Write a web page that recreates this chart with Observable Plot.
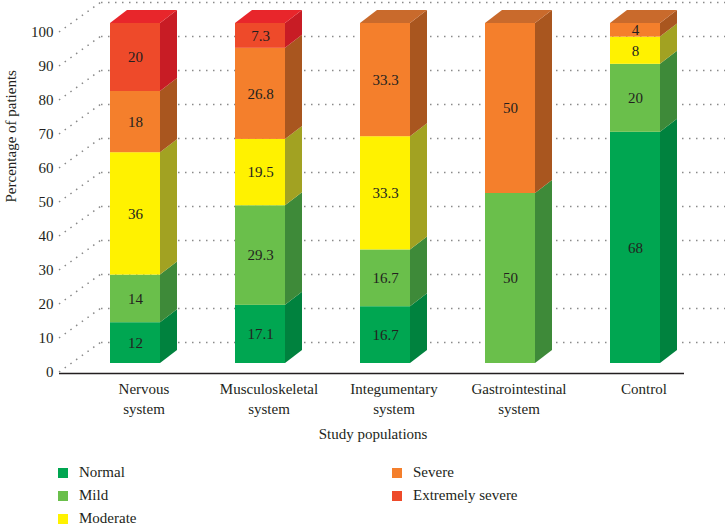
<!DOCTYPE html>
<html><head><meta charset="utf-8">
<script src="https://cdn.jsdelivr.net/npm/d3@7"></script>
<script src="https://cdn.jsdelivr.net/npm/@observablehq/plot@0.6"></script>
<style>
body{margin:0;background:#fff;font-family:"Liberation Serif","Times New Roman","DejaVu Serif",serif;color:#231f20}
#legend{position:relative;height:80px;width:725px;font-size:15px}
.item{position:absolute;display:flex;align-items:center;height:23px;white-space:nowrap}
.sw{width:10px;height:10px;margin-right:11px}
svg text{font-family:"Liberation Serif","Times New Roman","DejaVu Serif",serif}
</style></head><body>
<div id="chart"></div><div id="legend"></div>
<script>
const populations = ["Nervous system","Musculoskeletal system","Integumentary system","Gastrointestinal system","Control"];
const xTickLabels = ["Nervous\nsystem","Musculoskeletal\nsystem","Integumentary\nsystem","Gastrointestinal\nsystem","Control"];
const severities = ["Normal","Mild","Moderate","Severe","Extremely severe"];
const normal =          [12, 17.1, 16.7,  0, 68];
const mild =            [14, 29.3, 16.7, 50, 20];
const moderate =        [36, 19.5, 33.3,  0,  8];
const severe =          [18, 26.8, 33.3, 50,  4];
const extremelySevere = [20,  7.3,    0,  0,  0];
const yTicks = [0,10,20,30,40,50,60,70,80,90,100];
const frontColors = ["#00a651","#6abf4b","#fff200","#f47f2c","#ee4a2a"];
const sideColors  = ["#00823e","#3e8a39","#a2a222","#a9561f","#c81c25"];
const topColors   = ["#00b85a","#7fcc5e","#f5e800","#c96a2c","#e8262b"];

// build stacked rows
const seriesValues = [normal, mild, moderate, severe, extremelySevere];
const rows = [];
populations.forEach((p, i) => {
  let acc = 0;
  const segs = [];
  severities.forEach((s, k) => {
    const v = seriesValues[k][i];
    const r = {population: p, severity: s, k, value: v, y1: acc, y2: acc + v};
    acc += v;
    rows.push(r);
    if (v > 0) segs.push(r);
  });
  if (segs.length) segs[segs.length - 1].isTop = true;
});
const shown = rows.filter(r => r.value > 0);

// 3D look (style parameters, px)
const depthX = 17, depthY = 13, frontDy = -9, wallDx = 42, wallDy = -30;
const serif = "Liberation Serif, Times New Roman, DejaVu Serif, serif";

function depthFaces(index, scales, values, dimensions) {
  const {x, y} = scales;
  const bw = x.bandwidth ? x.bandwidth() : 67;
  const g = d3.create("svg:g");
  const x0 = dimensions.marginLeft - 22;
  for (const t of yTicks) {
    g.append("line")
      .attr("x1", x0).attr("y1", y(t))
      .attr("x2", x0 + wallDx).attr("y2", y(t) + wallDy)
      .attr("stroke", "#8a8a8a").attr("stroke-width", 1.5)
      .attr("stroke-dasharray", "1.5 5.5");
  }
  for (const r of shown) {
    const xl = x(r.population);
    const xr = xl + bw - depthX;
    const ya = y(r.y1) + frontDy, yb = y(r.y2) + frontDy;
    g.append("polygon")
      .attr("points", [[xr, ya], [xr + depthX, ya - depthY], [xr + depthX, yb - depthY], [xr, yb]].join(" "))
      .attr("fill", sideColors[r.k]);
    if (r.isTop) {
      g.append("polygon")
        .attr("points", [[xl, yb], [xl + depthX, yb - depthY], [xr + depthX, yb - depthY], [xr, yb]].join(" "))
        .attr("fill", topColors[r.k]);
    }
  }
  return g.node();
}

const chart = Plot.plot({
  width: 725,
  height: 445,
  marginLeft: 81,
  marginRight: 19,
  marginTop: 32,
  marginBottom: 73,
  style: {fontFamily: serif, fontSize: "15px", color: "#231f20", background: "#fff"},
  x: {domain: populations, paddingInner: 0.464, paddingOuter: 0.232, axis: null},
  y: {domain: [0, 100], axis: null},
  color: {domain: severities, range: frontColors},
  marks: [
    Plot.ruleY(yTicks, {dx: 20, dy: wallDy, stroke: "#8a8a8a", strokeWidth: 1.5, strokeDasharray: "1.5 5.5"}),
    Plot.ruleY([0], {dx: -22, dy: 1, stroke: "#231f20", strokeWidth: 1.5}),
    Plot.axisY({ticks: yTicks, tickSize: 0, tickPadding: 28, fontSize: 15, fontFamily: serif, label: null}),
    Plot.axisX({tickSize: 0, tickPadding: 8, fontSize: 15, fontFamily: serif, lineHeight: 1.3, label: null,
      tickFormat: d => xTickLabels[populations.indexOf(d)]}),
    Plot.text(["Percentage of patients"], {frameAnchor: "left", dx: -70, rotate: -90, fontSize: 15, fontFamily: serif, fill: "#231f20"}),
    Plot.text(["Study populations"], {frameAnchor: "bottom", dx: -21, dy: 66, fontSize: 15, fontFamily: serif, fill: "#231f20"}),
    depthFaces,
    Plot.barY(shown, {x: "population", y1: "y1", y2: "y2", fill: "severity", insetRight: depthX, dy: frontDy}),
    Plot.text(shown, {x: "population", y: d => (d.y1 + d.y2) / 2, text: d => String(d.value), dx: -depthX / 2, dy: frontDy, fontSize: 15, fontFamily: serif, fill: "#231f20"})
  ]
});
document.getElementById("chart").append(chart);

// legend
const legendPos = [[58, 16], [58, 39], [58, 62], [392, 16], [392, 39]];
const legend = document.getElementById("legend");
severities.forEach((s, k) => {
  const it = document.createElement("div");
  it.className = "item";
  it.style.left = legendPos[k][0] + "px";
  it.style.top = legendPos[k][1] + "px";
  it.innerHTML = `<span class="sw" style="background:${frontColors[k]}"></span><span>${s}</span>`;
  legend.append(it);
});
</script>
</body></html>
